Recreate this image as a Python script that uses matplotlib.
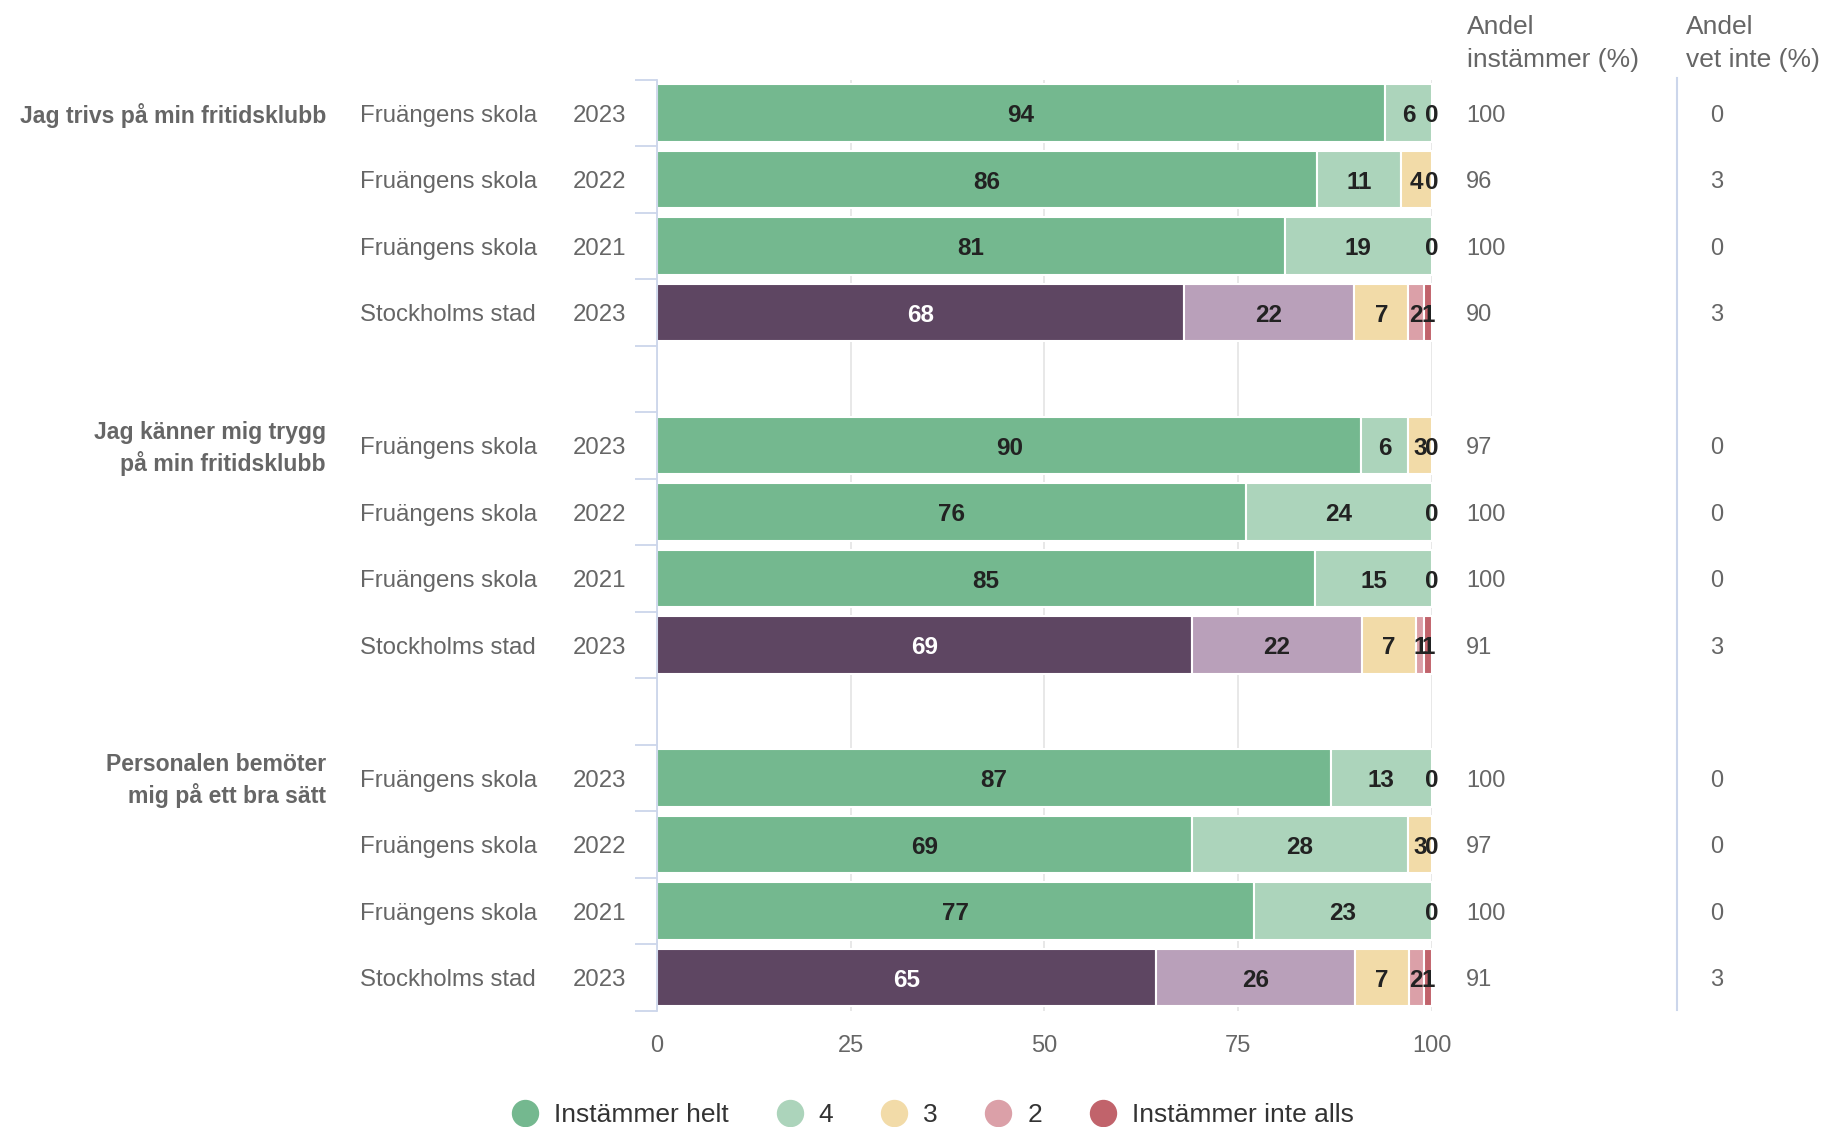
import matplotlib
matplotlib.use("Agg")
import matplotlib.pyplot as plt
from matplotlib.lines import Line2D
from matplotlib.transforms import blended_transform_factory
import numpy as np

plt.rcParams['font.family'] = ['Liberation Sans', 'DejaVu Sans']

# --- data ---
questions = ["Jag trivs på min fritidsklubb",
             "Jag känner mig trygg\npå min fritidsklubb",
             "Personalen bemöter\nmig på ett bra sätt"]
units = ["Fruängens skola", "Fruängens skola", "Fruängens skola", "Stockholms stad"]
years = ["2023", "2022", "2021", "2023"]

series_names = ["Instämmer helt", "4", "3", "2", "Instämmer inte alls"]
helt = [94, 86, 81, 68, 90, 76, 85, 69, 87, 69, 77, 65]
fyra = [6, 11, 19, 22, 6, 24, 15, 22, 13, 28, 23, 26]
tre = [0, 4, 0, 7, 3, 0, 0, 7, 0, 3, 0, 7]
tva = [None, 0, None, 2, 0, None, None, 1, None, 0, None, 2]
inte = [None, None, None, 1, None, None, None, 1, None, None, None, 1]

andel_instammer = [100, 96, 100, 90, 97, 100, 100, 91, 100, 97, 100, 91]
andel_vet_inte = [0, 3, 0, 3, 0, 0, 0, 3, 0, 0, 0, 3]

# colours
school_colors = ["#74b88f", "#acd4bb", "#f2dba8", "#dba0a8", "#c1636b"]
city_colors = ["#5e4662", "#b9a0ba", "#f2dba8", "#dba0a8", "#c1636b"]
label_gray = "#666666"

W, H = 1821, 1127
fig = plt.figure(figsize=(W / 100, H / 100), dpi=100)
ax = fig.add_axes([657 / W, 1 - 1010.75 / H, (1431.7 - 657) / W, (1010.75 - 79.75) / H])

n_rows = len(helt)
# slot positions: 4 rows per group, one empty slot between groups
ypos = [g * 5 + r for g in range(3) for r in range(4)]
dy = 0.04  # small downward nudge for text so it sits like the original

all_series = [helt, fyra, tre, tva, inte]
for i in range(n_rows):
    vals = [s[i] for s in all_series]
    total = sum(v for v in vals if v is not None)
    is_city = (i % 4 == 3)
    cols = city_colors if is_city else school_colors
    left = 0.0
    for k, v in enumerate(vals):
        if v is None:
            continue
        w = v / total * 100
        if w > 0:
            ax.barh(ypos[i], w, left=left, height=0.863, color=cols[k],
                    edgecolor="white", linewidth=1.5, zorder=2)
        txt_col = "white" if (is_city and k == 0) else "#222222"
        ax.text(left + w / 2, ypos[i] + dy, str(v), ha="center", va="center",
                fontsize=17.5, fontweight="bold", color=txt_col, zorder=3)
        left += w

ax.set_xlim(0, 100)
ax.set_ylim(13.5, -0.5)
ax.set_xticks([0, 25, 50, 75, 100])
ax.tick_params(axis="x", length=0, pad=17.5, labelsize=17, labelcolor=label_gray)
ax.set_yticks(np.arange(-0.5, 14, 1))
ax.tick_params(axis="y", length=16, width=1.3, color="#ccd6eb", labelleft=False)
ax.grid(axis="x", color="#e6e6e6", linewidth=1.3, zorder=0)
ax.set_axisbelow(True)
for side in ["top", "right", "bottom"]:
    ax.spines[side].set_visible(False)
ax.spines["left"].set_color("#ccd6eb")
ax.spines["left"].set_linewidth(1.3)

# side texts
tr = blended_transform_factory(fig.transFigure, ax.transData)
for i in range(n_rows):
    y = ypos[i] + dy
    ax.text(360 / W, y, units[i % 4], transform=tr, ha="left", va="center",
            fontsize=17.3, color=label_gray)
    ax.text(626 / W, y, years[i % 4], transform=tr, ha="right", va="center",
            fontsize=17.3, color=label_gray)
    ax.text(1466 / W, y, str(andel_instammer[i]), transform=tr, ha="left",
            va="center", fontsize=17, color=label_gray)
    ax.text(1710 / W, y, str(andel_vet_inte[i]), transform=tr, ha="left",
            va="center", fontsize=17, color=label_gray)

for g, q in enumerate(questions):
    ax.text(326 / W, g * 5 + dy, q, transform=tr, ha="right", va="center",
            multialignment="right", fontsize=16.6, fontweight="bold",
            color=label_gray, linespacing=1.35)

# column headers
fig.text(1467 / W, 1 - 15 / H, "Andel\ninstämmer (%)", ha="left", va="top",
         fontsize=19, color=label_gray, linespacing=1.45)
fig.text(1686 / W, 1 - 15 / H, "Andel\nvet inte (%)", ha="left", va="top",
         fontsize=19, color=label_gray, linespacing=1.45)

# separator line
fig.add_artist(Line2D([1676.7 / W, 1676.7 / W], [1 - 78 / H, 1 - 1010 / H],
                      transform=fig.transFigure, color="#ccd6eb", linewidth=1.5))

# legend
handles = [Line2D([], [], linestyle="none", marker="o", markersize=18.7,
                  markerfacecolor=c, markeredgecolor=c) for c in school_colors]
fig.legend(handles, series_names, ncol=5, loc="center",
           bbox_to_anchor=(933 / W, 1 - 1115.5 / H), frameon=False,
           fontsize=19, labelcolor="#333333", handlelength=1.0,
           handletextpad=0.6, columnspacing=1.8, borderpad=0)

fig.savefig("out.png", dpi=100)
